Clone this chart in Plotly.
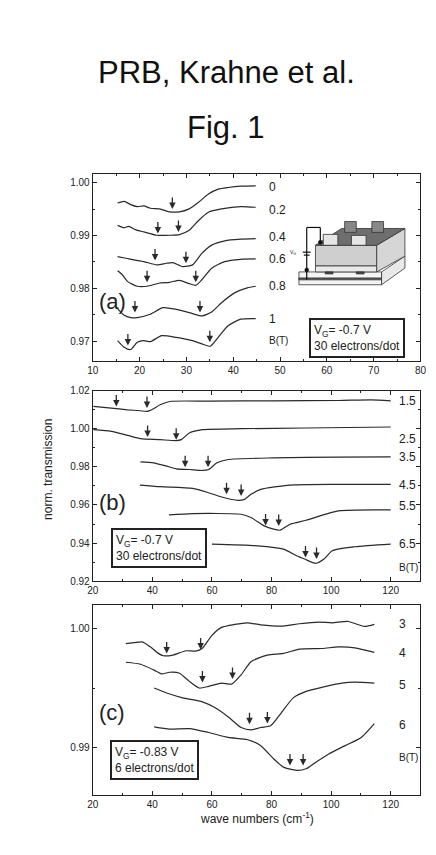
import plotly.graph_objects as go

# ---------- panel (a): x 10..80 ----------
a_x = {
    "0": [15.3, 16.7, 18.1, 19.5, 20.9, 22.3, 24.3, 26.1, 28.5, 30.6, 32.6, 34.7, 36.8, 38.9, 41.6, 44.8],
    "0.2": [15.3, 16.7, 17.7, 19.1, 20.9, 23.7, 26.4, 28.5, 30.6, 32.6, 34.7, 37.5, 41.6, 44.8],
    "0.4": [15.3, 17.1, 18.8, 20.9, 23.7, 25.7, 27.1, 29.2, 31.3, 33.3, 35.4, 38.2, 41.6, 44.8],
    "0.6": [15.3, 16.3, 17.4, 19.5, 21.6, 24.3, 26.4, 28.5, 30.6, 32.0, 33.3, 35.4, 38.2, 41.6, 44.8],
    "0.8": [15.3, 16.7, 18.1, 19.5, 22.3, 25.0, 27.8, 30.6, 33.3, 35.4, 37.5, 40.3, 43.0, 44.8],
    "1": [15.3, 16.7, 18.1, 19.5, 20.9, 22.3, 24.7, 27.8, 31.3, 33.3, 35.1, 36.8, 38.9, 41.6, 44.8],
}
a_y = {
    "0": [.99614, .99645, .99583, .99546, .99558, .99515, .99502, .99452, .99446, .99502, .99627, .99782, .99876, .99907, .99932, .99938],
    "0.2": [.99191, .99147, .99172, .99110, .99067, .99004, .99004, .99017, .99098, .99284, .99440, .99502, .99546, .99533],
    "0.4": [.98600, .98569, .98538, .98507, .98444, .98475, .98488, .98413, .98444, .98662, .98818, .98899, .98930, .98942],
    "0.6": [.98332, .98258, .98133, .98040, .98040, .98102, .98115, .98152, .98090, .98059, .98164, .98382, .98507, .98550, .98556],
    "0.8": [.97617, .97492, .97449, .97449, .97511, .97635, .97604, .97542, .97480, .97554, .97729, .97915, .98009, .98040],
    "1": [.97013, .96889, .96845, .96982, .97013, .96994, .97106, .97075, .97013, .96951, .96907, .97075, .97293, .97418, .97430],
}
a_arrow_x = [27.0, 23.9, 28.3, 23.3, 29.9, 21.6, 32.0, 19.0, 32.9, 17.5, 35.0]
a_arrow_y = [.99502, .99035, .99067, .98525, .98475, .98115, .98115, .97542, .97542, .96920, .96982]
a_labels = ["0", "0.2", "0.4", "0.6", "0.8", "1", "B(T)"]
a_label_y = [.99907, .99490, .98973, .98550, .98040, .97430, .97013]

# ---------- panel (b): x 20..130 ----------
b_x = {
    "1.5": [20.2, 26.2, 31.6, 35.9, 38.2, 39.8, 42.6, 45.8, 58.9, 80.7, 102.5, 113.4, 120.0],
    "2.5": [20.2, 26.2, 31.7, 36.0, 42.6, 48.0, 49.7, 52.4, 56.8, 69.8, 91.7, 120.0],
    "3.5": [36.0, 40.4, 44.8, 48.0, 52.4, 56.8, 58.9, 61.7, 65.5, 80.7, 102.5, 120.0],
    "4.5": [35.8, 42.6, 53.5, 58.9, 63.3, 68.7, 70.9, 73.1, 76.4, 86.2, 102.5, 120.0],
    "5.5": [45.6, 53.5, 69.8, 73.1, 77.5, 80.7, 82.9, 86.2, 91.6, 102.5, 120.0],
    "6.5": [60.0, 75.3, 84.0, 88.4, 91.1, 94.9, 97.6, 100.4, 108.0, 120.0],
}
b_y = {
    "1.5": [1.01165, 1.01078, 1.00991, 1.00939, 1.00904, 1.00991, 1.01252, 1.01426, 1.01443, 1.01461, 1.01478, 1.01513, 1.01461],
    "2.5": [.99948, .99861, .99652, .99478, .99426, .99374, .99426, .99774, .99948, 1.0, 1.00035, 1.00087],
    "3.5": [.98261, .98209, .98035, .97896, .97861, .97809, .97861, .98209, .98383, .98470, .98504, .98522],
    "4.5": [.97043, .96957, .96870, .96643, .96417, .96243, .96296, .96557, .96817, .97043, .97078, .97078],
    "5.5": [.95478, .95548, .95513, .95339, .94904, .94730, .94678, .94991, .95200, .95687, .95739],
    "6.5": [.93948, .93861, .93687, .93339, .93165, .92939, .93165, .93600, .93809, .93948],
}
b_arrow_x = [27.9, 38.2, 38.4, 48.0, 51.0, 58.7, 64.9, 69.8, 78.0, 82.4, 91.4, 95.1]
b_arrow_y = [1.01165, 1.01078, .99565, .99426, .97983, .97983, .96557, .96470, .94930, .94904, .93252, .93165]
b_labels = ["1.5", "2.5", "3.5", "4.5", "5.5", "6.5", "B(T)"]
b_label_y = [1.01426, .99461, .98504, .97026, .95948, .93948, .92731]

# ---------- panel (c): x 20..130 ----------
c_x = {
    "3": [31.1, 33.9, 36.6, 39.3, 42.0, 43.7, 46.9, 51.3, 54.5, 56.7, 60.0, 63.2, 67.6, 71.9, 76.3, 83.9, 89.4, 95.9, 100.3, 105.7, 111.2, 114.5],
    "4": [31.1, 36.0, 40.4, 43.1, 45.8, 49.1, 52.4, 55.7, 58.9, 63.3, 66.6, 69.8, 73.1, 78.6, 84.0, 89.4, 97.1, 102.5, 108.0, 114.5],
    "5": [40.6, 44.8, 50.2, 56.8, 61.1, 65.5, 69.8, 73.1, 76.4, 79.7, 82.9, 87.3, 91.6, 98.2, 103.6, 108.0, 114.5],
    "6": [40.6, 45.8, 52.4, 58.9, 65.5, 72.0, 76.4, 80.7, 84.0, 88.4, 91.6, 94.9, 99.2, 104.7, 110.1, 114.5],
}
c_y = {
    "3": [.99875, .99883, .99889, .99847, .99792, .99772, .99778, .99814, .99811, .99833, .99944, 1.00011, 1.00036, 1.0005, 1.00033, 1.00022, 1.00042, 1.00056, 1.0005, 1.00061, 1.00019, 1.00036],
    "4": [.99717, .997, .99653, .99619, .99633, .99625, .99556, .995, .99514, .99542, .99533, .99611, .99722, .99778, .99792, .99828, .99833, .99847, .99839, .998],
    "5": [.995, .99458, .99417, .99383, .99333, .99256, .99167, .99147, .99167, .99181, .99278, .99417, .99472, .99514, .99542, .9955, .99542],
    "6": [.99172, .99153, .99158, .99125, .99083, .99064, .99014, .98903, .98833, .98806, .98819, .98875, .98944, .99014, .99083, .992],
}
c_arrow_x = [44.8, 56.2, 56.8, 66.9, 72.6, 78.6, 86.2, 90.6]
c_arrow_y = [.99792, .99825, .99547, .99575, .99194, .99200, .98847, .98847]
c_labels = ["3", "4", "5", "6", "B(T)"]
c_label_y = [1.00036, .99797, .99528, .99186, .98917]

FONT = "Liberation Sans, Arial, sans-serif"
LINE = "#2a2a2a"

fig = go.Figure()
panels = [
    ("x", "y", a_x, a_y, a_arrow_x, a_arrow_y, a_labels, a_label_y, 47.2),
    ("x2", "y2", b_x, b_y, b_arrow_x, b_arrow_y, b_labels, b_label_y, 122.2),
    ("x3", "y3", c_x, c_y, c_arrow_x, c_arrow_y, c_labels, c_label_y, 122.2),
]
ann = []
for xa, ya, xs, ys, ax_, ay_, labs, laby, labx in panels:
    for k in xs:
        fig.add_trace(go.Scatter(x=xs[k], y=ys[k], mode="lines", xaxis=xa, yaxis=ya,
                                 line=dict(color=LINE, width=1.2, shape="spline", smoothing=0.6),
                                 showlegend=False, hoverinfo="skip"))
    for x, y in zip(ax_, ay_):
        ann.append(dict(x=x, y=y, xref=xa, yref=ya, ax=0, ay=-13, showarrow=True,
                        arrowhead=2, arrowsize=1, arrowwidth=1.3, arrowcolor=LINE, text=""))
    for t, y in zip(labs, laby):
        ann.append(dict(x=labx, y=y, xref=xa, yref=ya, text=t, showarrow=False,
                        xanchor="left", font=dict(size=12 if t != "B(T)" else 10, color="#222")))

# panel letters and boxed notes
ann += [
    dict(x=11.0, y=.9776, xref="x", yref="y", text="(a)", showarrow=False, xanchor="left", font=dict(size=22)),
    dict(x=21.5, y=.9612, xref="x2", yref="y2", text="(b)", showarrow=False, xanchor="left", font=dict(size=22)),
    dict(x=21.5, y=.9929, xref="x3", yref="y3", text="(c)", showarrow=False, xanchor="left", font=dict(size=22)),
    dict(x=66.5, y=.9707, xref="x", yref="y", showarrow=False, align="left", bgcolor="white",
         text="V<sub>G</sub>= -0.7 V<br>30 electrons/dot", bordercolor="#222", borderwidth=2,
         borderpad=3, font=dict(size=12)),
    dict(x=42.2, y=.9374, xref="x2", yref="y2", showarrow=False, align="left", bgcolor="white",
         text="V<sub>G</sub>= -0.7 V<br>30 electrons/dot", bordercolor="#222", borderwidth=2,
         borderpad=3, font=dict(size=12)),
    dict(x=40.6, y=.98892, xref="x3", yref="y3", showarrow=False, align="left", bgcolor="white",
         text="V<sub>G</sub>= -0.83 V<br>6 electrons/dot", bordercolor="#222", borderwidth=2,
         borderpad=3, font=dict(size=12)),
    dict(x=0.5, y=1 - 40 / 855, xref="paper", yref="paper", text="PRB, Krahne et al.",
         showarrow=False, font=dict(size=31, color="#111")),
    dict(x=0.5, y=1 - 96 / 855, xref="paper", yref="paper", text="Fig. 1",
         showarrow=False, font=dict(size=31, color="#111")),
    dict(x=25 / 436, y=1 - 462 / 855, xref="paper", yref="paper", text="norm. transmission",
         textangle=-90, showarrow=False, font=dict(size=12)),
    dict(x=0.572, y=1 - 825 / 855, xref="paper", yref="paper", text="wave numbers (cm<sup>-1</sup>)",
         showarrow=False, font=dict(size=12)),
    dict(x=292 / 436, y=1 - 237 / 855, xref="paper", yref="paper", text="V<sub>G</sub>",
         showarrow=False, font=dict(size=5)),
]


# inset device sketch (decoration), in page pixels
def P(x, y):
    return x / 436, 1 - y / 855


def poly(pts, fill, lw=0.8):
    d = "M " + " L ".join("%.4f,%.4f" % P(*p) for p in pts) + " Z"
    return dict(type="path", path=d, xref="paper", yref="paper", fillcolor=fill,
                line=dict(color="#333", width=lw))


shapes = [
    poly([(293, 262), (378, 262), (378, 275), (293, 275)], "#f4f4f4"),
    poly([(293, 268), (378, 268), (378, 270), (293, 270)], "#555"),
    poly([(378, 262), (402, 246), (402, 258), (378, 275)], "#e8e8e8"),
    poly([(310, 235), (373, 235), (373, 256), (310, 256)], "#cfcfcf"),
    poly([(310, 256), (373, 256), (373, 262), (310, 262)], "#e9e9e9"),
    poly([(373, 235), (402, 218), (402, 246), (373, 262)], "#d6d6d6"),
    poly([(310, 235), (337, 218), (402, 218), (373, 235)], "#6e6e6e"),
    poly([(318, 224), (333, 224), (333, 235), (318, 235)], "#e6e6e6"),
    poly([(347, 225), (362, 225), (362, 235), (347, 235)], "#e6e6e6"),
    poly([(340, 211), (352, 211), (352, 222), (340, 222)], "#888"),
    poly([(368, 211), (380, 211), (380, 222), (368, 222)], "#888"),
    poly([(320, 262), (328, 262), (328, 264), (320, 264)], "#444"),
    poly([(352, 262), (360, 262), (360, 264), (352, 264)], "#444"),
]
for (x0, y0), (x1, y1) in [((301, 217), (315, 217)), ((315, 217), (315, 232)),
                           ((301, 217), (301, 270)), ((297, 242), (305, 242)), ((298, 245), (304, 245))]:
    a0, b0 = P(x0, y0)
    a1, b1 = P(x1, y1)
    shapes.append(dict(type="line", x0=a0, y0=b0, x1=a1, y1=b1, xref="paper", yref="paper",
                       line=dict(color="#111", width=1.2)))
for cx, cy in [(315, 232), (301, 260)]:
    a0, b0 = P(cx - 2, cy - 2)
    a1, b1 = P(cx + 2, cy + 2)
    shapes.append(dict(type="circle", x0=a0, y0=b0, x1=a1, y1=b1, xref="paper", yref="paper",
                       fillcolor="#111", line=dict(color="#111", width=0.5)))

axis_common = dict(showline=True, linecolor="#222", linewidth=1.2, mirror="allticks",
                   ticks="inside", ticklen=4, tickcolor="#222", showgrid=False, zeroline=False,
                   tickfont=dict(size=10, color="#222"))
xdom = [81 / 436, 418 / 436]

fig.update_layout(
    width=436, height=855, margin=dict(l=0, r=0, t=0, b=0),
    paper_bgcolor="white", plot_bgcolor="white",
    font=dict(family=FONT, color="#222"),
    annotations=ann, shapes=shapes,
    xaxis=dict(domain=xdom, range=[10, 80], dtick=10, anchor="y",
               minor=dict(dtick=5, ticks="inside", ticklen=2, tickcolor="#222"), **axis_common),
    yaxis=dict(domain=[1 - 352 / 855, 1 - 163 / 855], range=[0.9663, 1.0016], dtick=0.01,
               tickformat=".2f", anchor="x",
               minor=dict(dtick=0.005, ticks="inside", ticklen=2, tickcolor="#222"), **axis_common),
    xaxis2=dict(domain=xdom, range=[20, 130], dtick=20, anchor="y2",
                minor=dict(dtick=10, ticks="inside", ticklen=2, tickcolor="#222"), **axis_common),
    yaxis2=dict(domain=[1 - 575 / 855, 1 - 382 / 855], range=[0.92, 1.02], dtick=0.02,
                tickformat=".2f", anchor="x2",
                minor=dict(dtick=0.01, ticks="inside", ticklen=2, tickcolor="#222"), **axis_common),
    xaxis3=dict(domain=xdom, range=[20, 130], dtick=20, anchor="y3",
                minor=dict(dtick=10, ticks="inside", ticklen=2, tickcolor="#222"), **axis_common),
    yaxis3=dict(domain=[1 - 791 / 855, 1 - 599 / 855], range=[0.986, 1.002], dtick=0.01,
                tickformat=".2f", anchor="x3",
                minor=dict(dtick=0.005, ticks="inside", ticklen=2, tickcolor="#222"), **axis_common),
)

fig.write_html("out.html")
